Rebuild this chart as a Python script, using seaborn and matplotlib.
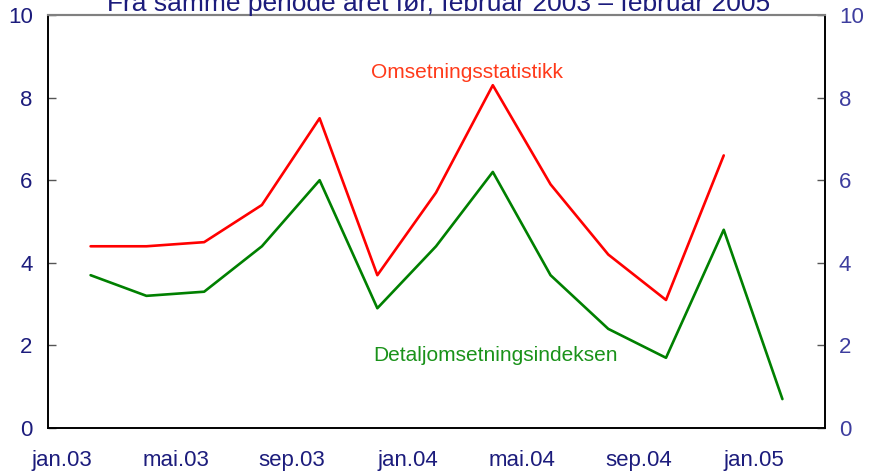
import matplotlib
matplotlib.use("Agg")
import matplotlib.pyplot as plt
import seaborn as sns
import pandas as pd

# Bimonthly periods (first month of each period) and growth figures, per cent
months = ["2003-02", "2003-04", "2003-06", "2003-08", "2003-10", "2003-12",
          "2004-02", "2004-04", "2004-06", "2004-08", "2004-10", "2004-12",
          "2005-02"]
omsetning = [4.4, 4.4, 4.5, 5.4, 7.5, 3.7, 5.7, 8.3, 5.9, 4.2, 3.1, 6.6, None]
detalj = [3.7, 3.2, 3.3, 4.4, 6.0, 2.9, 4.4, 6.2, 3.7, 2.4, 1.7, 4.8, 0.7]

tick_months = ["2003-01", "2003-05", "2003-09", "2004-01", "2004-05", "2004-09", "2005-01"]
tick_labels = ["jan.03", "mai.03", "sep.03", "jan.04", "mai.04", "sep.04", "jan.05"]
y_ticks = [0, 2, 4, 6, 8, 10]

title = "Fra samme periode året før, februar 2003 – februar 2005"
navy = "#1c1c7c"
navy_light = "#3d3d9e"

sns.set_style("white")
plt.rcParams["font.family"] = ["Liberation Sans", "DejaVu Sans"]

df = pd.DataFrame({
    "dato": pd.to_datetime(months) + pd.Timedelta(days=14),
    "Omsetningsstatistikk": omsetning,
    "Detaljomsetningsindeksen": detalj,
})

fig = plt.figure(figsize=(8.69, 4.72), dpi=100)
ax = fig.add_axes([48 / 869, 44 / 472, 777 / 869, 413 / 472])

sns.lineplot(data=df, x="dato", y="Omsetningsstatistikk", color="#ff0000", lw=1.9, ax=ax)
sns.lineplot(data=df, x="dato", y="Detaljomsetningsindeksen", color="#008000", lw=1.9, ax=ax)

ax.set_xlim(pd.Timestamp("2003-01-01"), pd.Timestamp("2005-04-01"))
ax.set_ylim(0, 10)
ax.set_xlabel("")
ax.set_ylabel("")

# tick marks on month boundaries, labels centred in the month
tick_starts = pd.to_datetime(tick_months)
ax.set_xticks(tick_starts[1:])
ax.set_xticklabels([])
ax.set_xticks(tick_starts + pd.Timedelta(days=15), tick_labels, minor=True)
ax.tick_params(axis="x", which="major", direction="in", length=6, width=1, color="#555555")
ax.tick_params(axis="x", which="minor", length=0, pad=16, labelsize=16, labelcolor=navy)

ax.set_yticks(y_ticks)
ax.tick_params(axis="y", direction="in", length=6, width=1, color="#555555",
               pad=11, labelsize=16, labelcolor=navy)

ax2 = ax.twinx()
ax2.set_ylim(0, 10)
ax2.set_yticks(y_ticks)
ax2.tick_params(axis="y", direction="in", length=6, width=1, color="#555555",
                pad=10, labelsize=16, labelcolor=navy_light)

for a in (ax, ax2):
    for side in ("left", "right", "bottom"):
        a.spines[side].set_color("black")
        a.spines[side].set_linewidth(1.2)
    a.spines["top"].set_color("#808080")
    a.spines["top"].set_linewidth(1.5)

ax.text(pd.Timestamp("2004-03-19"), 8.6, "Omsetningsstatistikk", color="#ff3a1a",
        fontsize=15, ha="center", va="center")
ax.text(pd.Timestamp("2004-04-18"), 1.75, "Detaljomsetningsindeksen", color="#1a921a",
        fontsize=15, ha="center", va="center")

# the title sits partly above the figure edge, as in the original
fig.text(439 / 869, 1 - 11 / 472, title, color=navy, fontsize=19, ha="center", va="baseline")

fig.savefig("out.png", dpi=100)
